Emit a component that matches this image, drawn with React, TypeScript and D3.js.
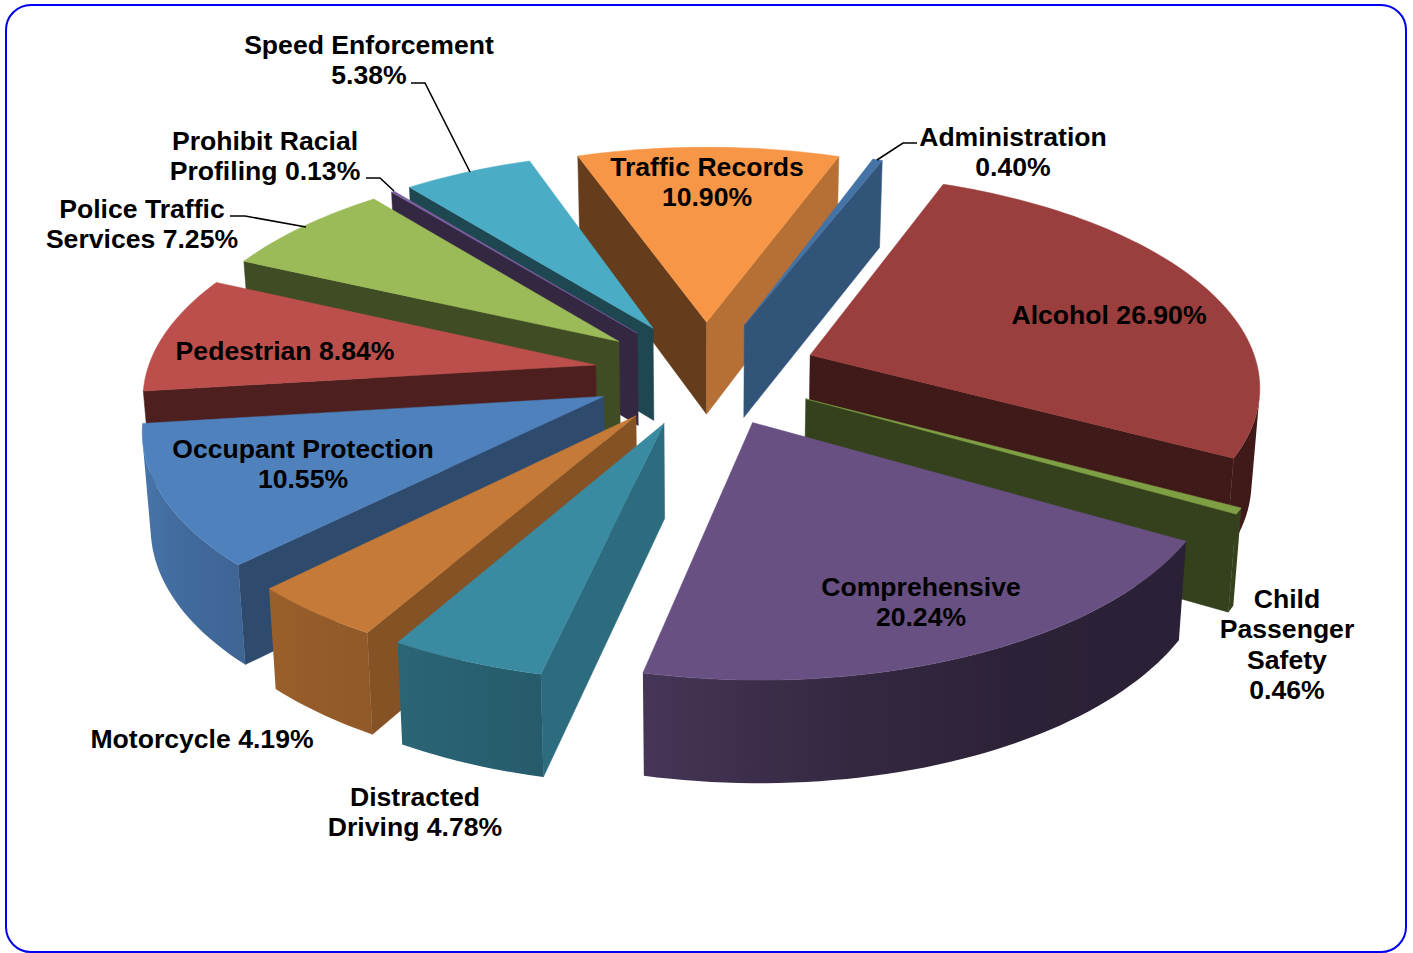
import * as d3 from "d3";

// percent shares, clockwise from Administration
const categories = [
  "Administration", "Alcohol", "Child Passenger Safety", "Comprehensive",
  "Distracted Driving", "Motorcycle", "Occupant Protection", "Pedestrian",
  "Police Traffic Services", "Prohibit Racial Profiling", "Speed Enforcement", "Traffic Records",
];
const shares = [0.4, 26.9, 0.46, 20.24, 4.78, 4.19, 10.55, 8.84, 7.25, 0.13, 5.38, 10.9];
const topColors = [
  "#4473a6", "#9a3f3d", "#7f9f45", "#685082", "#3a8aa2", "#c57a37",
  "#4f81bd", "#bc4f4c", "#9bbb59", "#7d5fa0", "#4bacc6", "#f79646",
];

const labels = [
  { lines: ["Administration", "0.40%"], x: 1013, y: 146 },
  { lines: ["Alcohol 26.90%"], x: 1109, y: 324 },
  { lines: ["Child", "Passenger", "Safety", "0.46%"], x: 1287, y: 608 },
  { lines: ["Comprehensive", "20.24%"], x: 921, y: 596 },
  { lines: ["Distracted", "Driving 4.78%"], x: 415, y: 806 },
  { lines: ["Motorcycle 4.19%"], x: 202, y: 748 },
  { lines: ["Occupant Protection", "10.55%"], x: 303, y: 458 },
  { lines: ["Pedestrian 8.84%"], x: 285, y: 360 },
  { lines: ["Police Traffic", "Services 7.25%"], x: 142, y: 218 },
  { lines: ["Prohibit Racial", "Profiling 0.13%"], x: 265, y: 150 },
  { lines: ["Speed Enforcement", "5.38%"], x: 369, y: 54 },
  { lines: ["Traffic Records", "10.90%"], x: 707, y: 176 },
];
const leaders: [number, number][][] = [
  [[917, 143], [903, 143], [877, 160]],
  [[411, 83], [425, 83], [470, 172]],
  [[366, 178], [380, 178], [394, 191]],
  [[230, 216], [245, 216], [306, 227]],
];

const WIDTH = 1413;
const HEIGHT = 953;
const EXPLODE = 0.25;
const TILT = 0.13; // how fast the far side of the pie shrinks
const CENTER_X = 706;
const START_DEG = 19.9;

// plane of the pie -> screen, before the perspective divide
const xScale = d3.scaleLinear().domain([-1, 1]).range([CENTER_X - 449, CENTER_X + 449]);
const yScale = d3.scaleLinear().domain([-1, 1]).range([373 + 210, 373 - 210]);

// brightness against the facing direction (degrees clockwise from the back)
const wallLight = d3.scaleLinear().domain([100, 135, 172, 210, 250]).range([0.8, 0.58, 0.41, 0.41, 0.41]).clamp(true);
const rimLight = d3
  .scaleLinear()
  .domain([90, 150, 170, 192, 210, 225, 265, 300])
  .range([0.41, 0.42, 0.5, 0.66, 0.73, 0.78, 0.95, 0.95])
  .clamp(true);

type Pt = [number, number];

const project = (u: number, v: number): Pt => {
  const w = 1 + TILT * v;
  return [xScale(u / w), yScale(v / w)];
};

// same point on the underside of the pie
const drop = ([x, y]: Pt): Pt => [x + (CENTER_X - x) * 0.015, y + 82 + 0.031 * y];

const shade = (color: string, f: number) => {
  const c = d3.rgb(color);
  return d3.rgb(c.r * f, c.g * f, c.b * f).formatHex();
};

// positive when the outward side of a wall looks at the viewer
const faces = (q: Pt[]) => d3.polygonArea(q) > 0;

const deg = (a: number) => (a * 180) / Math.PI;
const norm = (a: number) => ((a % 360) + 360) % 360;

const pie = d3
  .pie<number>()
  .sort(null)
  .startAngle((START_DEG * Math.PI) / 180)
  .endAngle((START_DEG * Math.PI) / 180 + 2 * Math.PI);

const line = d3.line();

const slices = pie(shares).map((d, i) => {
  const mid = (d.startAngle + d.endAngle) / 2;
  const ox = EXPLODE * Math.sin(mid);
  const oy = EXPLODE * Math.cos(mid);
  const steps = Math.max(2, Math.ceil(deg(d.endAngle - d.startAngle) / 1.5));
  const angles = d3.range(steps + 1).map((s) => d.startAngle + ((d.endAngle - d.startAngle) * s) / steps);
  const apex = project(ox, oy);
  const rim = angles.map((a) => project(ox + Math.sin(a), oy + Math.cos(a)));
  return { i, mid, apex, rim, angles, start: deg(d.startAngle), end: deg(d.endAngle), color: topColors[i] };
});

// far slices first, so the near ones cover them
const drawOrder = [...slices].sort((a, b) => Math.cos(b.mid) - Math.cos(a.mid));

function RimWall({ s }: { s: (typeof slices)[number] }) {
  // the part of the curved side that looks at the viewer, shaded left to right
  const seen = d3.range(s.rim.length).filter((k) => {
    const a = s.rim[k];
    const b = s.rim[k + 1] ?? a;
    const p = s.rim[k - 1] ?? a;
    return faces([a, b, drop(b), drop(a)]) || faces([p, a, drop(a), drop(p)]);
  });
  if (seen.length < 2) return null;
  const upper = seen.map((k) => s.rim[k]);
  const lower = upper.map(drop).reverse();
  const x1 = upper[0][0];
  const x2 = upper[upper.length - 1][0];
  const id = `rim-${s.i}`;
  return (
    <>
      <linearGradient id={id} gradientUnits="userSpaceOnUse" x1={x1} x2={x2} y1={0} y2={0}>
        {seen.map((k, n) => (
          <stop
            key={k}
            offset={(upper[n][0] - x1) / (x2 - x1)}
            stopColor={shade(s.color, rimLight(norm(deg(s.angles[k]))))}
          />
        ))}
      </linearGradient>
      <path d={line([...upper, ...lower]) + "Z"} fill={`url(#${id})`} />
    </>
  );
}

function Slice({ s }: { s: (typeof slices)[number] }) {
  const last = s.rim[s.rim.length - 1];
  const startWall: Pt[] = [s.apex, s.rim[0], drop(s.rim[0]), drop(s.apex)];
  const endWall: Pt[] = [last, s.apex, drop(s.apex), drop(last)];
  const wall = (q: Pt[], normal: number) => {
    if (!faces(q)) return null;
    const fill = shade(s.color, wallLight(norm(normal)));
    return <path d={line(q) + "Z"} fill={fill} stroke={fill} strokeWidth={0.5} />;
  };
  return (
    <g data-name={categories[s.i]}>
      {wall(startWall, s.start - 90)}
      {wall(endWall, s.end + 90)}
      <RimWall s={s} />
      <path d={line([s.apex, ...s.rim]) + "Z"} fill={s.color} stroke={s.color} strokeWidth={0.5} />
    </g>
  );
}

export default function App() {
  return (
    <svg
      width={WIDTH}
      height={HEIGHT}
      style={{ position: "absolute", left: 0, top: 0 }}
      fontFamily="'Liberation Sans', Arial, sans-serif"
      fontWeight="bold"
      fontSize={26.6}
    >
      <rect x={0} y={0} width={WIDTH} height={HEIGHT} fill="#fff" />
      <rect x={6} y={5} width={1400} height={947} rx={25} ry={25} fill="none" stroke="#0000f0" strokeWidth={2} />
      {drawOrder.map((s) => (
        <Slice key={s.i} s={s} />
      ))}
      {leaders.map((l, i) => (
        <path key={i} d={line(l) ?? ""} fill="none" stroke="#000" strokeWidth={1.6} />
      ))}
      {labels.map((l, i) => (
        <text key={i} textAnchor="middle" fill="#000" x={l.x} y={l.y}>
          {l.lines.map((t, k) => (
            <tspan key={k} x={l.x} y={l.y + k * 30.3}>
              {t}
            </tspan>
          ))}
        </text>
      ))}
    </svg>
  );
}
